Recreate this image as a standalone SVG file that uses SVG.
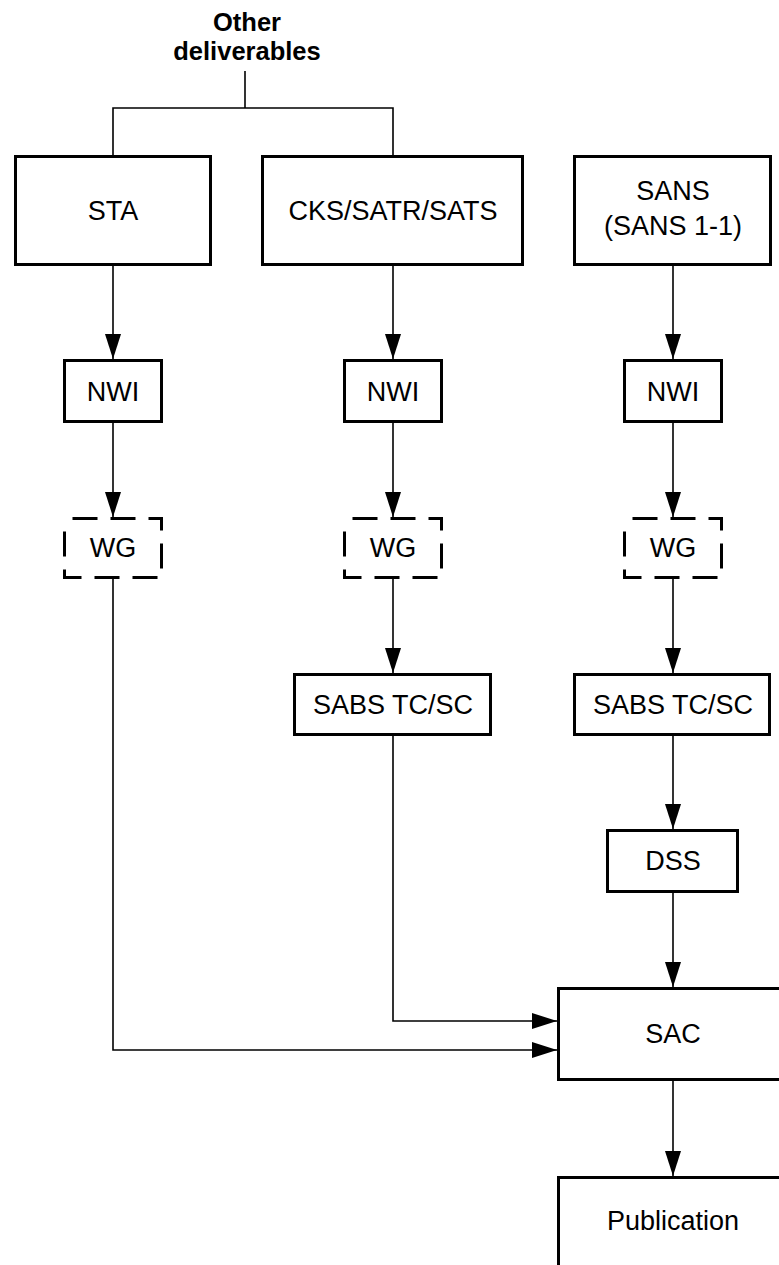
<svg xmlns="http://www.w3.org/2000/svg" width="779" height="1265" viewBox="0 0 779 1265">
<style>
  .box { fill: #ffffff; stroke: #000000; stroke-width: 3; }
  .dash { fill: #ffffff; stroke: #000000; stroke-width: 3; stroke-dasharray: 25 13; stroke-dashoffset: 30; }
  .lbl { font-family: "Liberation Sans", Arial, sans-serif; font-size: 27px; fill: #000000; text-anchor: middle; }
  .title { font-family: "Liberation Sans", Arial, sans-serif; font-size: 25.5px; font-weight: bold; fill: #000000; text-anchor: middle; }
  .conn { fill: none; stroke: #000000; stroke-width: 1.6; }
  .arr { fill: none; stroke: #000000; stroke-width: 1.6; marker-end: url(#ah); }
</style>
<defs>
  <marker id="ah" markerUnits="userSpaceOnUse" markerWidth="25" markerHeight="16" refX="25" refY="8" orient="auto">
    <path d="M0,0 L25,8 L0,16 Z" fill="#000000"/>
  </marker>
</defs>
<rect width="779" height="1265" fill="#ffffff"/>

<g id="connectors">
  <line class="conn" x1="245" y1="71" x2="245" y2="108"/>
  <polyline class="conn" points="113,155 113,108 393,108 393,155"/>
  <line class="arr" x1="113" y1="266" x2="113" y2="359"/>
  <line class="arr" x1="393" y1="266" x2="393" y2="359"/>
  <line class="arr" x1="673" y1="266" x2="673" y2="359"/>
  <line class="arr" x1="113" y1="423" x2="113" y2="517"/>
  <line class="arr" x1="393" y1="423" x2="393" y2="517"/>
  <line class="arr" x1="673" y1="423" x2="673" y2="517"/>
  <line class="arr" x1="393" y1="579" x2="393" y2="673"/>
  <line class="arr" x1="673" y1="579" x2="673" y2="673"/>
  <line class="arr" x1="673" y1="736" x2="673" y2="829"/>
  <line class="arr" x1="673" y1="893" x2="673" y2="987"/>
  <line class="arr" x1="673" y1="1081" x2="673" y2="1176"/>
  <polyline class="arr" points="113,579 113,1050 557,1050"/>
  <polyline class="arr" points="393,736 393,1021 557,1021"/>
</g>

<g id="other-deliverables">
  <text class="title" x="247" y="31">Other</text>
  <text class="title" x="247" y="60">deliverables</text>
</g>

<g id="sta">
  <rect class="box" x="15.5" y="156.5" width="195" height="108"/>
  <text class="lbl" x="113" y="219.5">STA</text>
</g>
<g id="cks">
  <rect class="box" x="262.5" y="156.5" width="260" height="108"/>
  <text class="lbl" x="393" y="219.5">CKS/SATR/SATS</text>
</g>
<g id="sans">
  <rect class="box" x="574.5" y="156.5" width="196" height="108"/>
  <text class="lbl" x="673" y="200">SANS</text>
  <text class="lbl" x="673" y="235">(SANS 1-1)</text>
</g>

<g id="nwi-1">
  <rect class="box" x="64.5" y="360.5" width="97" height="61"/>
  <text class="lbl" x="113" y="400.5">NWI</text>
</g>
<g id="nwi-2">
  <rect class="box" x="344.5" y="360.5" width="97" height="61"/>
  <text class="lbl" x="393" y="400.5">NWI</text>
</g>
<g id="nwi-3">
  <rect class="box" x="624.5" y="360.5" width="97" height="61"/>
  <text class="lbl" x="673" y="400.5">NWI</text>
</g>

<g id="wg-1">
  <rect class="dash" x="64.5" y="518.5" width="97" height="59"/>
  <text class="lbl" x="113" y="557">WG</text>
</g>
<g id="wg-2">
  <rect class="dash" x="344.5" y="518.5" width="97" height="59"/>
  <text class="lbl" x="393" y="557">WG</text>
</g>
<g id="wg-3">
  <rect class="dash" x="624.5" y="518.5" width="97" height="59"/>
  <text class="lbl" x="673" y="557">WG</text>
</g>

<g id="sabs-1">
  <rect class="box" x="294.5" y="674.5" width="196" height="60"/>
  <text class="lbl" x="393" y="714">SABS TC/SC</text>
</g>
<g id="sabs-2">
  <rect class="box" x="574.5" y="674.5" width="195" height="60"/>
  <text class="lbl" x="673" y="714">SABS TC/SC</text>
</g>

<g id="dss">
  <rect class="box" x="607.5" y="830.5" width="130" height="61"/>
  <text class="lbl" x="673" y="870">DSS</text>
</g>

<g id="sac">
  <rect class="box" x="558.5" y="988.5" width="230" height="91"/>
  <text class="lbl" x="673" y="1042.5">SAC</text>
</g>

<g id="publication">
  <rect class="box" x="558.5" y="1177.5" width="230" height="120"/>
  <text class="lbl" x="673" y="1229.5">Publication</text>
</g>
</svg>
